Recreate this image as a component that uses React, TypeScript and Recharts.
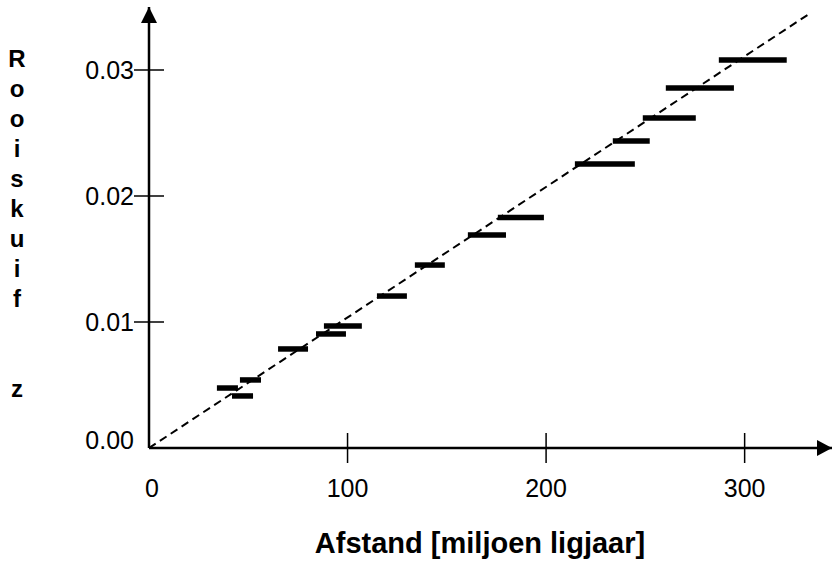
import React from 'react';
import {
  ComposedChart,
  XAxis,
  YAxis,
  Line,
  ReferenceLine,
  ReferenceDot,
} from 'recharts';

// Distance ranges (million light-years) and redshift of each galaxy
const distLow = [34.2, 41.8, 45.8, 65.0, 84.1, 88.1, 114.8, 133.9, 160.6, 175.7, 214.5, 233.6, 248.7, 260.3, 287.0];
const distHigh = [44.8, 52.4, 56.4, 80.1, 99.2, 107.2, 129.9, 149.0, 179.8, 198.9, 244.7, 252.2, 275.4, 294.6, 321.2];
const redshift = [0.00476, 0.00413, 0.0054, 0.00786, 0.00905, 0.00968, 0.01206, 0.01452, 0.0169, 0.0183, 0.02254, 0.02437, 0.0262, 0.02857, 0.03079];

// Fitted trend line (through the origin)
const trendX = [0, 332];
const trendY = [0, 0.0344];

const xTicks = [0, 100, 200, 300];
const yTicks = [0, 0.01, 0.02, 0.03];
const xTickLabels = ['0', '100', '200', '300'];
const yTickLabels = ['0.00', '0.01', '0.02', '0.03'];

const xTitle = 'Afstand [miljoen ligjaar]';
const yTitleLetters = ['R', 'o', 'o', 'i', 's', 'k', 'u', 'i', 'f', '', '', 'z'];

const X_MAX = 344;
const Y_MAX = 0.035;

const FONT = '"Liberation Sans", Arial, sans-serif';

const trendData = trendX.map((x, i) => ({ x, y: trendY[i] }));

const XTick = (props: any) => {
  const { x, y, payload } = props;
  const idx = xTicks.indexOf(payload.value);
  return (
    <g>
      {payload.value !== 0 && (
        <line x1={x} x2={x} y1={y - 15} y2={y + 15} stroke="#000" strokeWidth={1.5} />
      )}
      <text
        x={x + (payload.value === 0 ? 3 : 0)}
        y={y + 40}
        textAnchor="middle"
        dominantBaseline="central"
        fontFamily={FONT}
        fontSize={25}
        fill="#000"
      >
        {idx >= 0 ? xTickLabels[idx] : payload.value}
      </text>
    </g>
  );
};

const YTick = (props: any) => {
  const { x, y, payload } = props;
  const idx = yTicks.indexOf(payload.value);
  const isZero = payload.value === 0;
  return (
    <g>
      {!isZero && (
        <line x1={x - 15} x2={x + 15} y1={y} y2={y} stroke="#000" strokeWidth={1.5} />
      )}
      <text
        x={x - 15}
        y={isZero ? y - 8 : y}
        textAnchor="end"
        dominantBaseline="central"
        fontFamily={FONT}
        fontSize={25}
        fill="#000"
      >
        {idx >= 0 ? yTickLabels[idx] : payload.value}
      </text>
    </g>
  );
};

const XTitle = () => (
  <text
    x={480}
    y={543}
    textAnchor="middle"
    dominantBaseline="central"
    fontFamily={FONT}
    fontSize={29}
    fontWeight="bold"
    fill="#000"
  >
    {xTitle}
  </text>
);

const YTitle = () => (
  <text
    x={17}
    fontFamily={FONT}
    fontSize={24}
    fontWeight="bold"
    fill="#000"
    textAnchor="middle"
    dominantBaseline="central"
  >
    {yTitleLetters.map((ch, i) => (
      <tspan key={i} x={17} y={58 + i * 30}>
        {ch === '' ? '\u00a0' : ch}
      </tspan>
    ))}
  </text>
);

const XArrow = (props: any) => {
  const { cx, cy } = props;
  return (
    <polygon points={`${cx},${cy} ${cx - 15},${cy - 8} ${cx - 15},${cy + 8}`} fill="#000" />
  );
};

const YArrow = (props: any) => {
  const { cx, cy } = props;
  return (
    <polygon points={`${cx},${cy} ${cx - 8},${cy + 16} ${cx + 8},${cy + 16}`} fill="#000" />
  );
};

export default function App() {
  return (
    <div style={{ position: 'absolute', left: 0, top: 0, width: 834, height: 564, background: '#fff' }}>
      <ComposedChart
        width={834}
        height={564}
        margin={{ top: 7, right: 2, left: 0, bottom: 0 }}
      >
        <XAxis
          type="number"
          dataKey="x"
          domain={[0, X_MAX]}
          ticks={xTicks}
          allowDataOverflow
          height={116}
          tickSize={0}
          tickMargin={0}
          tickLine={false}
          axisLine={{ stroke: '#000', strokeWidth: 2.5 }}
          tick={<XTick />}
          label={{ content: () => <XTitle /> }}
        />
        <YAxis
          type="number"
          dataKey="y"
          domain={[0, Y_MAX]}
          ticks={yTicks}
          allowDataOverflow
          width={149}
          tickSize={0}
          tickMargin={0}
          tickLine={false}
          axisLine={{ stroke: '#000', strokeWidth: 2.5 }}
          tick={<YTick />}
          label={{ content: () => <YTitle /> }}
        />
        <Line
          data={trendData}
          dataKey="y"
          type="linear"
          stroke="#000"
          strokeWidth={2}
          strokeDasharray="8 5"
          dot={false}
          activeDot={false}
          isAnimationActive={false}
        />
        {redshift.map((z, i) => (
          <ReferenceLine
            key={i}
            segment={[
              { x: distLow[i], y: z },
              { x: distHigh[i], y: z },
            ]}
            stroke="#000"
            strokeWidth={5.5}
          />
        ))}
        <ReferenceDot x={X_MAX} y={0} r={0} shape={<XArrow />} />
        <ReferenceDot x={0} y={Y_MAX} r={0} shape={<YArrow />} />
      </ComposedChart>
    </div>
  );
}
